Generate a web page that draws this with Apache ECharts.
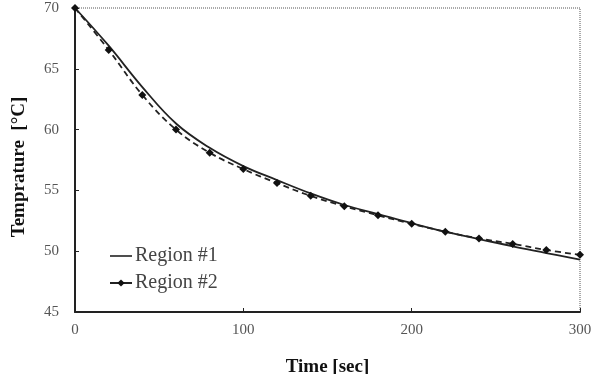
<!DOCTYPE html>
<html>
<head>
<meta charset="utf-8">
<script src="https://cdn.jsdelivr.net/npm/echarts@6/dist/echarts.min.js"></script>
<style>
  html, body { margin: 0; padding: 0; background: #fff; }
  #chart { width: 594px; height: 374px; }
</style>
</head>
<body>
<div id="chart"></div>
<script>
// time in seconds
let times = [0, 20, 40, 60, 80, 100, 120, 140, 160, 180, 200, 220, 240, 260, 280, 300];
let region1 = [70, 66.9, 63.5, 60.5, 58.5, 57.0, 55.85, 54.75, 53.8, 53.05, 52.3, 51.6, 51.0, 50.4, 49.85, 49.3];
let region2 = [70, 66.55, 62.85, 60.0, 58.1, 56.75, 55.6, 54.55, 53.7, 52.95, 52.25, 51.6, 51.05, 50.6, 50.1, 49.7];
let seriesNames = ['Region #1', 'Region #2'];

let pairs = (vals) => times.map((t, i) => [t, vals[i]]);
let serif = '"Liberation Serif", "DejaVu Serif", serif';

let chart = echarts.init(document.getElementById('chart'));
chart.setOption({
    animation: false,
    grid: {
        left: 75, right: 14, top: 8, bottom: 62,
        containLabel: false,
        outerBoundsMode: 'none',
        show: true,
        borderColor: '#555',
        borderWidth: 1,
        borderType: 'dotted'
    },
    legend: {
        orient: 'vertical',
        left: 104, top: 241,
        itemWidth: 22, itemHeight: 9,
        itemGap: 7,
        textStyle: { fontFamily: serif, fontSize: 20, color: '#444', padding: [0, 0, 0, -2] },
        data: [
            // plain line for the solid curve
            { name: seriesNames[0], icon: 'path://M0,0 L22,0 L22,1.6 L0,1.6 Z' },
            { name: seriesNames[1], lineStyle: { type: 'solid' } }
        ]
    },
    xAxis: {
        type: 'value',
        min: 0, max: 300, interval: 100,
        name: 'Time [sec]',
        nameLocation: 'middle',
        nameGap: 46,
        nameTextStyle: { fontFamily: serif, fontSize: 19, fontWeight: 'bold', color: '#111' },
        axisLine: { lineStyle: { color: '#222', width: 2 } },
        axisTick: { inside: true, length: 4, lineStyle: { color: '#222' } },
        axisLabel: { fontFamily: serif, fontSize: 15, color: '#555', margin: 11 },
        splitLine: { show: false }
    },
    yAxis: {
        type: 'value',
        min: 45, max: 70, interval: 5,
        name: 'Temprature  [°C]',
        nameLocation: 'middle',
        nameGap: 46,
        nameTextStyle: { fontFamily: serif, fontSize: 19, fontWeight: 'bold', color: '#111', padding: [0, 14, 0, 0] },
        axisLine: { show: true, lineStyle: { color: '#222', width: 2 } },
        axisTick: { show: true, inside: true, length: 4, lineStyle: { color: '#222' } },
        axisLabel: { fontFamily: serif, fontSize: 15, color: '#555', margin: 16 },
        splitLine: { show: false }
    },
    series: [
        {
            name: seriesNames[0],
            type: 'line',
            data: pairs(region1),
            smooth: 0.4,
            symbol: 'none',
            lineStyle: { color: '#222', width: 1.8 },
            itemStyle: { color: '#222' }
        },
        {
            name: seriesNames[1],
            type: 'line',
            data: pairs(region2),
            smooth: 0.4,
            symbol: 'diamond',
            symbolSize: 8,
            lineStyle: { color: '#222', width: 1.8, type: [6, 4] },
            itemStyle: { color: '#111' }
        }
    ]
});
</script>
</body>
</html>
